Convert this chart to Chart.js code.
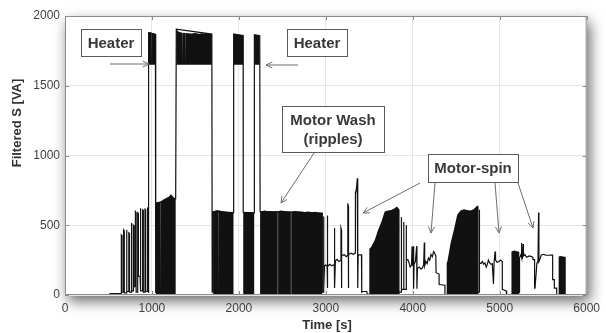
<!DOCTYPE html>
<html>
<head>
<meta charset="utf-8">
<script src="https://cdn.jsdelivr.net/npm/chart.js@4.4.0/dist/chart.umd.min.js"></script>
<style>
  html, body { margin: 0; padding: 0; background: #fff; }
  #c { display: block; }
</style>
</head>
<body>
<canvas id="c" width="606" height="333"></canvas>
<script>
// washing machine cycle, filtered apparent power

// thin trace: time [s] / S [VA]
const traceT = [
  0, 515, 518, 645,
  648, 648, 656, 656, 674, 674, 682, 682, 705, 705, 713, 713,
  734, 734, 742, 742, 761, 761, 769, 769, 787, 787, 795, 795,
  810, 810, 818, 818, 836, 836, 844, 844, 864, 864, 872, 872,
  893, 893, 901, 901, 920, 920, 928, 928, 950, 950, 958, 958,
  963, 963, 1040, 1040, 1045, 1045, 1273, 1280, 1689, 1693, 1705, 1705,
  1938, 1940, 2049, 2050, 2176, 2178, 2240, 2244, 2958, 2960,
  2973, 2973, 2977, 2977, 2985, 3000, 3015, 3015, 3019, 3019,
  3025, 3045, 3065, 3085, 3098, 3098, 3102, 3102,
  3110, 3130, 3150, 3174, 3174, 3178, 3178,
  3185, 3210, 3235, 3253, 3253, 3257, 3257,
  3265, 3290, 3315, 3336, 3336, 3345, 3352, 3362, 3366, 3368,
  3372, 3410, 3413, 3425, 3470, 3478, 3500,
  3848, 3867, 3867, 3871, 3871, 3894, 3894, 3898, 3898, 3924, 3924, 3928,
  3943, 3955, 3970, 3985, 3992, 3996, 4007, 4010, 4015, 4030, 4045, 4048,
  4054, 4075, 4095, 4110, 4125, 4133, 4137, 4150, 4165, 4180, 4195, 4210,
  4225, 4240, 4252, 4265, 4268, 4303, 4303, 4370, 4370, 4390,
  4757, 4765, 4765, 4769, 4785, 4800, 4815, 4830, 4845, 4860, 4870, 4885,
  4900, 4915, 4928, 4935, 4947, 4952, 4970, 4990, 5010, 5030, 5030, 5075, 5080, 5130,
  5225, 5228, 5228, 5245, 5250, 5254, 5262, 5269, 5273, 5288, 5310, 5340, 5365, 5382,
  5382, 5401, 5401, 5406, 5428, 5440, 5447, 5451, 5465, 5477, 5500, 5530, 5560, 5590,
  5609, 5609, 5628, 5628, 5655, 5655, 5678,
  5761, 5800
];
const traceS = [
  0, 0, 10, 10,
  10, 431, 425, 20, 20, 467, 460, 15, 15, 467, 460, 25,
  25, 445, 440, 20, 20, 516, 510, 30, 30, 500, 495, 60,
  60, 598, 590, 20, 20, 590, 585, 133, 133, 622, 615, 30,
  30, 610, 605, 20, 20, 615, 610, 25, 25, 622, 618, 15,
  15, 1880, 1870, 15, 15, 658, 690, 1905, 1870, 20, 20, 598,
  590, 1870, 1860, 592, 588, 1865, 1858, 598, 588, 20,
  20, 563, 555, 50, 210, 215, 205, 570, 560, 50,
  205, 220, 210, 215, 210, 480, 470, 50,
  245, 255, 240, 250, 480, 470, 50,
  280, 290, 275, 285, 658, 640, 50,
  290, 300, 292, 300, 742, 725, 760, 837, 820, 50,
  288, 288, 20, 25, 25, 5, 5,
  20, 20, 558, 550, 40, 40, 523, 515, 40, 40, 500, 253,
  253, 235, 200, 215, 348, 210, 350, 45, 220, 240, 350, 45,
  190, 200, 185, 195, 215, 377, 210, 240, 225, 265, 250, 290,
  275, 312, 300, 280, 160, 150, 75, 70, 3, 3,
  20, 20, 612, 230, 225, 240, 220, 230, 200, 225, 250, 230,
  220, 225, 79, 230, 312, 250, 235, 240, 250, 240, 40, 30, 3, 3,
  20, 20, 265, 290, 372, 270, 265, 365, 280, 290, 270, 280, 275, 270,
  253, 253, 50, 50, 229, 240, 591, 240, 260, 286, 292, 286, 285, 286,
  286, 110, 110, 50, 50, 3, 3,
  3, 3
];

// dense oscillation blocks (motor), upper envelope, filled down to 0
const blockT = [
  1045, 1045, 1070, 1083, 1100, 1100, 1104, 1104, 1121, 1140, 1159, 1180, 1197, 1216, 1235, 1250, 1265, 1273, 1273,
  1705, 1705, 1730, 1765, 1765, 1769, 1769, 1803, 1841, 1878, 1910, 1938, 1938,
  2050, 2050, 2080, 2110, 2140, 2160, 2176, 2176,
  2244, 2244, 2270, 2300, 2330, 2360, 2400, 2447, 2447, 2451, 2451, 2480, 2520, 2560, 2598, 2598,
  2602, 2602, 2640, 2680, 2720, 2760, 2800, 2840, 2880, 2920, 2958, 2958,
  3500, 3500, 3526, 3564, 3602, 3640, 3677, 3716, 3753, 3791, 3818, 3835, 3848, 3848,
  4390, 4390, 4398, 4435, 4473, 4511, 4549, 4587, 4625, 4663, 4700, 4739, 4750, 4757, 4757,
  5130, 5130, 5140, 5165, 5190, 5211, 5225, 5225,
  5678, 5678, 5700, 5730, 5761, 5761
];
const blockS = [
  0, 658, 662, 663, 670, 0, 0, 672, 680, 688, 694, 700, 706, 723, 712, 700, 694, 690, 0,
  0, 598, 605, 610, 0, 0, 608, 603, 598, 595, 592, 590, 0,
  0, 592, 596, 593, 595, 590, 588, 0,
  0, 598, 603, 605, 600, 603, 598, 603, 0, 0, 600, 605, 603, 600, 598, 0,
  0, 598, 603, 600, 598, 595, 598, 593, 596, 590, 588, 0,
  0, 329, 350, 396, 467, 527, 598, 605, 610, 622, 634, 622, 612, 0,
  0, 229, 240, 372, 467, 575, 605, 615, 610, 605, 615, 640, 645, 625, 0,
  0, 300, 312, 319, 316, 312, 310, 0,
  0, 276, 280, 276, 272, 0
];

// heater pulses, upper edge of the dense band (band sits above ~1650 VA)
const heaterT = [
  963, 963, 985, 996, 996, 999, 999, 1020, 1040, 1040,
  1280, 1280, 1300, 1318, 1348, 1348, 1352, 1352, 1386, 1386, 1390, 1390,
  1424, 1460, 1500, 1540, 1580, 1620, 1660, 1689, 1689,
  1940, 1940, 1960, 1990, 2010, 2049, 2049,
  2178, 2178, 2200, 2240, 2240
];
const heaterS = [
  1650, 1880, 1885, 1878, 1650, 1650, 1880, 1875, 1870, 1650,
  1650, 1910, 1890, 1885, 1880, 1650, 1650, 1880, 1878, 1650, 1650, 1878,
  1876, 1875, 1878, 1873, 1876, 1872, 1875, 1870, 1650,
  1650, 1872, 1872, 1868, 1865, 1860, 1650,
  1650, 1865, 1862, 1858, 1650
];

const xTicks = [0, 1000, 2000, 3000, 4000, 5000, 6000];
const yTicks = [0, 500, 1000, 1500, 2000];

const toXY = (ts, vs) => ts.map((t, i) => ({ x: t, y: vs[i] }));

const FONT = "'Liberation Sans', Arial, sans-serif";
const INK = '#111111';

// white plot panel with a soft drop shadow
const panelShadow = {
    id: 'panelShadow',
    beforeDraw(chart) {
        const { ctx, chartArea: a } = chart;
        ctx.save();
        ctx.shadowColor = 'rgba(0,0,0,0.6)';
        ctx.shadowBlur = 13;
        ctx.shadowOffsetX = 3;
        ctx.shadowOffsetY = 6;
        ctx.fillStyle = '#fff';
        ctx.fillRect(a.left, a.top, a.right - a.left, a.bottom - a.top);
        ctx.restore();
    }
};

// matlab style box with inward ticks
const boxFrame = {
    id: 'boxFrame',
    afterDatasetsDraw(chart) {
        const { ctx, chartArea: a, scales } = chart;
        ctx.save();
        ctx.strokeStyle = '#8c8c8c';
        ctx.lineWidth = 1;
        ctx.strokeRect(a.left + 0.5, a.top + 0.5, a.right - a.left - 1, a.bottom - a.top - 1);
        ctx.beginPath();
        xTicks.forEach(v => {
            const px = Math.round(scales.x.getPixelForValue(v)) + 0.5;
            ctx.moveTo(px, a.top); ctx.lineTo(px, a.top + 4);
            ctx.moveTo(px, a.bottom); ctx.lineTo(px, a.bottom - 4);
        });
        yTicks.forEach(v => {
            const py = Math.round(scales.y.getPixelForValue(v)) + 0.5;
            ctx.moveTo(a.left, py); ctx.lineTo(a.left + 4, py);
            ctx.moveTo(a.right, py); ctx.lineTo(a.right - 4, py);
        });
        ctx.stroke();
        ctx.restore();
    }
};

function arrow(ctx, x1, y1, x2, y2) {
    const ang = Math.atan2(y2 - y1, x2 - x1);
    const L = 7, w = 0.45;
    ctx.beginPath();
    ctx.moveTo(x1, y1);
    ctx.lineTo(x2, y2);
    ctx.moveTo(x2 - L * Math.cos(ang - w), y2 - L * Math.sin(ang - w));
    ctx.lineTo(x2, y2);
    ctx.lineTo(x2 - L * Math.cos(ang + w), y2 - L * Math.sin(ang + w));
    ctx.stroke();
}

function labelBox(ctx, x, y, w, h, lines) {
    ctx.fillStyle = '#fff';
    ctx.fillRect(x, y, w, h);
    ctx.strokeStyle = '#5a5a5a';
    ctx.lineWidth = 1;
    ctx.strokeRect(x + 0.5, y + 0.5, w, h);
    ctx.fillStyle = '#383838';
    ctx.font = 'bold 15px ' + FONT;
    ctx.textAlign = 'center';
    ctx.textBaseline = 'middle';
    const step = 19;
    const y0 = y + h / 2 - (lines.length - 1) * step / 2;
    lines.forEach((s, i) => ctx.fillText(s, x + w / 2, y0 + i * step + 1));
}

const annotations = {
    id: 'annotations',
    afterDraw(chart) {
        const ctx = chart.ctx;
        ctx.save();
        ctx.strokeStyle = '#6e6e6e';
        ctx.lineWidth = 1;
        arrow(ctx, 110, 64, 149, 64);
        arrow(ctx, 298, 65, 266, 65);
        arrow(ctx, 314, 153, 281, 203);
        arrow(ctx, 420, 183, 363, 213);
        arrow(ctx, 435, 183, 431, 233);
        arrow(ctx, 495, 183, 499, 233);
        arrow(ctx, 518, 183, 533, 228);
        labelBox(ctx, 81, 29, 60, 27, ['Heater']);
        labelBox(ctx, 287, 29, 60, 27, ['Heater']);
        labelBox(ctx, 282, 106, 102, 46, ['Motor Wash', '(ripples)']);
        labelBox(ctx, 428, 154, 90, 28, ['Motor-spin']);

        // axis titles
        ctx.fillStyle = '#333';
        ctx.font = 'bold 13px ' + FONT;
        ctx.textAlign = 'center';
        ctx.textBaseline = 'middle';
        ctx.fillText('Time [s]', 327, 325);
        ctx.translate(17, 123);
        ctx.rotate(-Math.PI / 2);
        ctx.fillText('Filtered S [VA]', 0, 0);
        ctx.restore();
    }
};

const tickFont = { family: FONT, size: 12 };

new Chart(document.getElementById('c').getContext('2d'), {
    type: 'line',
    data: {
        datasets: [
            {
                label: 'S',
                data: toXY(traceT, traceS),
                borderColor: INK,
                borderWidth: 1.2,
                pointRadius: 0,
                tension: 0,
                fill: false
            },
            {
                label: 'motor',
                data: toXY(blockT, blockS),
                borderColor: INK,
                borderWidth: 0,
                backgroundColor: INK,
                pointRadius: 0,
                tension: 0,
                fill: 'origin'
            },
            {
                label: 'heater',
                data: toXY(heaterT, heaterS),
                borderColor: INK,
                borderWidth: 0,
                backgroundColor: INK,
                pointRadius: 0,
                tension: 0,
                fill: { value: 1650 }
            }
        ]
    },
    options: {
        responsive: false,
        animation: false,
        layout: { padding: { top: 16, right: 14, left: 0, bottom: 0 } },
        plugins: {
            legend: { display: false },
            tooltip: { enabled: false }
        },
        scales: {
            x: {
                type: 'linear',
                min: 0,
                max: 6000,
                afterBuildTicks: s => { s.ticks = xTicks.map(v => ({ value: v })); },
                afterFit: s => { s.height = 38; },
                ticks: { font: tickFont, color: '#404040', padding: 6, maxRotation: 0, autoSkip: false,
                         callback: v => String(v) },
                grid: { color: '#e6e6e6', drawTicks: false },
                border: { display: false }
            },
            y: {
                min: 0,
                max: 2000,
                afterBuildTicks: s => { s.ticks = yTicks.map(v => ({ value: v })); },
                afterFit: s => { s.width = 65; },
                ticks: { font: tickFont, color: '#404040', padding: 5, callback: v => String(v) },
                grid: { color: '#e6e6e6', drawTicks: false },
                border: { display: false }
            }
        }
    },
    plugins: [panelShadow, boxFrame, annotations]
});
</script>
</body>
</html>
